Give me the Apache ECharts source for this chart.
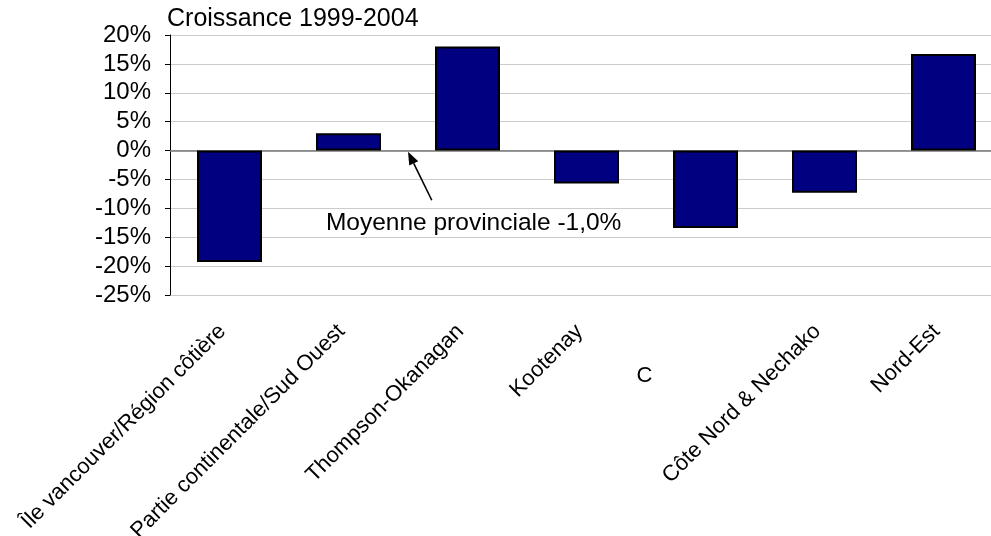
<!DOCTYPE html>
<html>
<head>
<meta charset="utf-8">
<script src="https://cdn.jsdelivr.net/npm/echarts@6/dist/echarts.min.js"></script>
<style>
html,body{margin:0;padding:0;background:#fff;overflow:hidden;}
#chart{width:991px;height:536px;}
</style>
</head>
<body>
<div id="chart"></div>
<script>
const titleText = 'Croissance 1999-2004';
const categories = ['Île vancouver/Région côtière', 'Partie continentale/Sud Ouest', 'Thompson-Okanagan', 'Kootenay', 'C', 'Côte Nord & Nechako', 'Nord-Est'];
const growth = [-19.3, 3.0, 18.0, -5.7, -13.4, -7.3, 16.7];
const yMin = -25, yMax = 20, yStep = 5;
const avgLabel = 'Moyenne provinciale -1,0%';
// annotation anchor points in data units (category index, value)
const arrowTip = [1.5, -0.2];
const arrowTail = [1.7, -8.6];
const avgTextPos = [0.81, -14.0];

const FONT = '"Liberation Sans", Arial, sans-serif';
const chart = echarts.init(document.getElementById('chart'), null, {renderer: 'canvas'});

chart.setOption({
  animation: false,
  backgroundColor: '#fff',
  title: {
    text: titleText,
    left: 167,
    top: 7,
    padding: 0,
    textStyle: {fontFamily: FONT, fontSize: 25, fontWeight: 'normal', color: '#000'}
  },
  grid: {left: 170, width: 833, top: 35, bottom: 241, containLabel: false, outerBoundsMode: 'none'},
  xAxis: {
    type: 'category',
    data: categories,
    position: 'bottom',
    axisLine: {show: false, onZero: false},
    axisTick: {show: false},
    axisLabel: {
      interval: 0,
      rotate: 45,
      margin: 26,
      padding: [0, 10, 22, 0],
      fontFamily: FONT,
      fontSize: 22,
      color: '#000',
      formatter: function (v, i) { return i === 4 ? '' : v; }
    }
  },
  yAxis: {
    type: 'value',
    min: yMin, max: yMax, interval: yStep,
    axisLine: {show: true, lineStyle: {color: '#000', width: 1}},
    axisTick: {show: true, inside: false, length: 5, lineStyle: {color: '#000', width: 1}},
    axisLabel: {margin: 19, fontFamily: FONT, fontSize: 24, color: '#000', formatter: '{value}%'},
    splitLine: {show: true, lineStyle: {color: '#cccccc', width: 1}}
  },
  series: [{
    type: 'bar',
    data: growth,
    barWidth: 65,
    itemStyle: {color: '#000080', borderColor: '#000', borderWidth: 2},
    markLine: {
      silent: true,
      symbol: ['none', 'none'],
      label: {show: false},
      lineStyle: {color: '#777', width: 1.5, type: 'solid'},
      data: [{yAxis: 0}],
      z: 1
    }
  }]
});

function px(pt) {
  const x0 = chart.convertToPixel({xAxisIndex: 0}, 0);
  const x1 = chart.convertToPixel({xAxisIndex: 0}, 1);
  const x = x0 + (x1 - x0) * pt[0];
  const y = chart.convertToPixel({yAxisIndex: 0}, pt[1]);
  return [x, y];
}

const tip = px(arrowTip);
const tail = px(arrowTail);
const dx = tip[0] - tail[0], dy = tip[1] - tail[1];
const len = Math.sqrt(dx * dx + dy * dy);
const ux = dx / len, uy = dy / len;
const headLen = 13, headHalf = 5;
const base = [tip[0] - ux * headLen, tip[1] - uy * headLen];
const head = [
  [tip[0], tip[1]],
  [base[0] - uy * headHalf, base[1] + ux * headHalf],
  [base[0] + uy * headHalf, base[1] - ux * headHalf]
];
const txt = px(avgTextPos);
const cX = chart.convertToPixel({xAxisIndex: 0}, 4);
const bottomY = chart.convertToPixel({yAxisIndex: 0}, yMin);

chart.setOption({
  graphic: [
    {type: 'line', shape: {x1: tail[0], y1: tail[1], x2: base[0], y2: base[1]}, style: {stroke: '#000', lineWidth: 1.6}, z: 100},
    {type: 'polygon', shape: {points: head}, style: {fill: '#000'}, z: 100},
    {type: 'text', x: txt[0], y: txt[1] + 4, style: {text: avgLabel, fill: '#000', font: '24.5px ' + FONT, textAlign: 'left', textVerticalAlign: 'bottom'}, z: 100},
    {type: 'text', x: cX - 69, y: bottomY + 92, style: {text: categories[4], fill: '#000', font: '22px ' + FONT, textAlign: 'left', textVerticalAlign: 'bottom'}, z: 100}
  ]
});
</script>
</body>
</html>
